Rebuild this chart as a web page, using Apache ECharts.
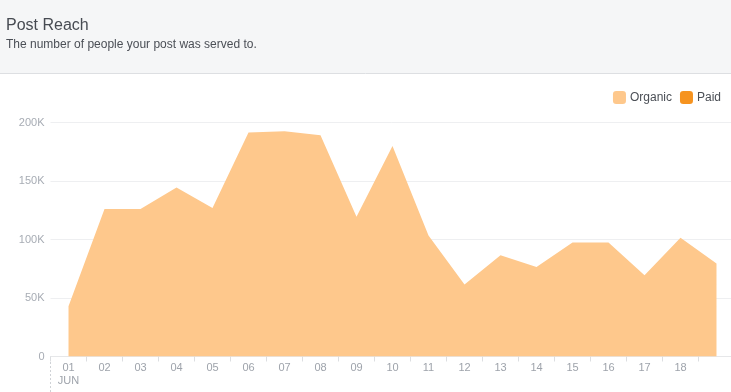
<!DOCTYPE html>
<html>
<head>
<meta charset="utf-8">
<script src="https://cdn.jsdelivr.net/npm/echarts@6/dist/echarts.min.js"></script>
<style>
  html, body { margin: 0; padding: 0; background: #ffffff; }
  #chart { width: 731px; height: 392px; }
</style>
</head>
<body>
<div id="chart"></div>
<script>
var titleText = 'Post Reach';
var subtitleText = 'The number of people your post was served to.';
var categories = ['01', '02', '03', '04', '05', '06', '07', '08', '09', '10',
                  '11', '12', '13', '14', '15', '16', '17', '18', '19'];
var monthLabel = 'JUN';
var organic = [43000, 126000, 126000, 144500, 127000, 191500, 192500, 189000, 119500, 180000,
               103500, 61500, 86500, 76500, 97500, 97500, 69500, 101500, 79500];
var paid = [0, 0, 0, 0, 0, 0, 0, 0, 0, 0, 0, 0, 0, 0, 0, 0, 0, 0, 0];
var seriesNames = ['Organic', 'Paid'];
var yTicks = [0, 50000, 100000, 150000, 200000];

var FONT = '"Liberation Sans", Arial, Helvetica, sans-serif';
var chart = echarts.init(document.getElementById('chart'), null, { renderer: 'canvas' });

chart.setOption({
  animation: false,
  backgroundColor: '#ffffff',
  textStyle: { fontFamily: FONT },
  graphic: [
    { type: 'rect', shape: { x: 0, y: 0, width: 731, height: 73 }, style: { fill: '#f5f6f7' }, z: -10 },
    { type: 'line', shape: { x1: 0, y1: 73.5, x2: 731, y2: 73.5 }, style: { stroke: '#dddfe2', lineWidth: 1 }, z: -9 },
    { type: 'text', x: 6, y: 25.5, style: { text: titleText, fill: '#474b52', fontSize: 16, fontFamily: FONT, verticalAlign: 'middle' } },
    { type: 'text', x: 6, y: 45, style: { text: subtitleText, fill: '#4b4f56', fontSize: 12, fontFamily: FONT, verticalAlign: 'middle' } },
    { type: 'line', shape: { x1: 50.5, y1: 362, x2: 50.5, y2: 392 }, style: { stroke: '#cfd2d6', lineWidth: 1, lineDash: [2, 2] } }
  ],
  legend: {
    right: 5,
    top: 86,
    itemWidth: 13,
    itemHeight: 13,
    itemGap: 8,
    icon: 'roundRect',
    data: seriesNames,
    textStyle: { color: '#4b4f56', fontSize: 12, fontFamily: FONT, padding: [0, 0, 0, -1] }
  },
  grid: { left: 50.5, top: 122.5, width: 684, height: 234, containLabel: false, outerBoundsMode: 'none' },
  xAxis: {
    type: 'category',
    data: categories,
    boundaryGap: true,
    axisLine: { show: true, lineStyle: { color: '#e6e7e9', width: 1 } },
    axisTick: { show: true, length: 5, lineStyle: { color: '#dcdee1' }, alignWithLabel: false },
    axisLabel: {
      color: '#9ea3ab',
      fontSize: 11,
      fontFamily: FONT,
      margin: 5,
      lineHeight: 13,
      interval: 0,
      formatter: function (v, i) {
        if (i === 0) return v + '\n' + monthLabel;
        if (i === categories.length - 1) return '';
        return v;
      }
    },
    splitLine: { show: false }
  },
  yAxis: {
    type: 'value',
    min: yTicks[0],
    max: yTicks[yTicks.length - 1],
    interval: yTicks[1] - yTicks[0],
    axisLine: { show: false },
    axisTick: { show: false },
    axisLabel: {
      color: '#a7acb4',
      fontSize: 11,
      fontFamily: FONT,
      margin: 6,
      formatter: function (v) { return v === 0 ? '0' : (v / 1000) + 'K'; }
    },
    splitLine: { show: true, lineStyle: { color: '#eeeff1', width: 1 } }
  },
  series: [
    {
      name: seriesNames[0],
      type: 'line',
      data: organic,
      symbol: 'none',
      showSymbol: false,
      itemStyle: { color: '#fec88c' },
      lineStyle: { width: 0, color: '#fec88c' },
      areaStyle: { color: '#fec88c', opacity: 1 },
      z: 1
    },
    {
      name: seriesNames[1],
      type: 'line',
      data: paid,
      symbol: 'none',
      showSymbol: false,
      itemStyle: { color: '#f6931f' },
      lineStyle: { width: 0, color: '#f6931f' },
      areaStyle: { color: '#f6931f', opacity: 1 },
      z: 2
    }
  ]
});
</script>
</body>
</html>
